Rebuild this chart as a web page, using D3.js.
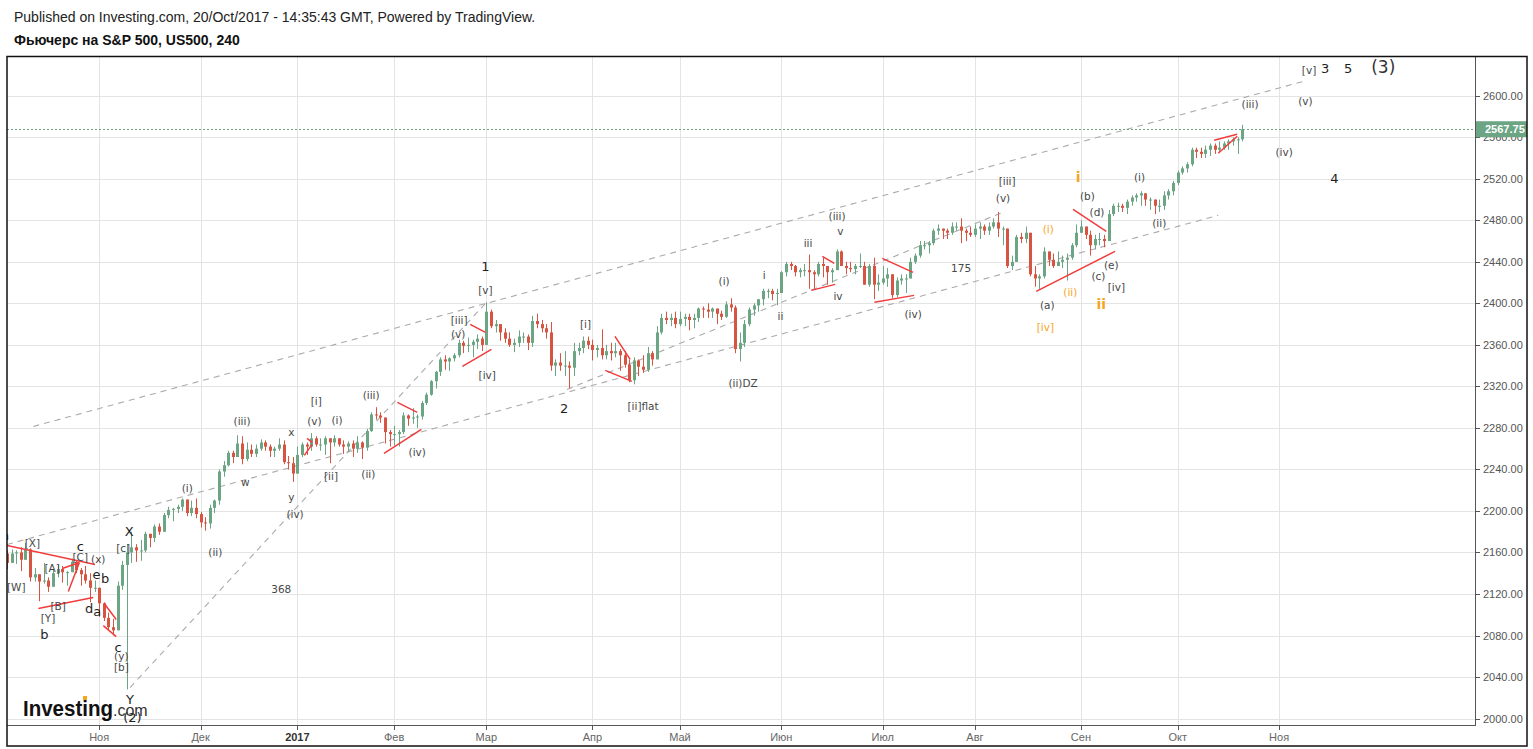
<!DOCTYPE html>
<html>
<head>
<meta charset="utf-8">
<script src="https://cdn.jsdelivr.net/npm/d3@7"></script>
<style>
body {margin: 0; background: #fff; font-family: "Liberation Sans", Arial, sans-serif;}
</style>
</head>
<body>
<div class="chartWrap"></div>
<script>
//Data: daily bars of the US500 futures (open = previous close)
const firstDay = "2016-10-04", lastDay = "2017-12-29";
const holidays = ["2016-12-26", "2017-01-02", "2017-04-14", "2017-05-29", "2017-07-04"];
const firstOpen = 2159;
const closes = [
  2150,2159,2160,2153,2163,2136,2139,2132,2133,2127,2140,2144,2141,2141,2151,2143,2139,2133,2126,2126, //Oct
  2111,2097,2088,2085,2128,2148,2160,2165,2162,2162,2178,2174,2185,2180,2196,2201,2202,2204,2211,2198,2203,2197, //Nov
  2189,2188,2203,2210,2238,2244,2256,2252,2265,2250,2259,2255,2260,2266,2262,2258,2260,2264,2247,2246,2236, //Dec
  2254,2264,2262,2270,2264,2264,2270,2266,2270,2264,2262,2265,2260,2266,2261,2277,2293,2292,2290,2276,2274, //Jan
  2274,2276,2292,2289,2290,2291,2304,2312,2325,2334,2346,2344,2347,2350,2362,2359,2360,2363,2366,2360, //Feb
  2392,2378,2380,2372,2366,2360,2362,2368,2368,2362,2383,2380,2376,2372,2340,2343,2340,2340,2338,2354,2357,2364,2360, //Mar
  2355,2357,2350,2354,2352,2354,2350,2341,2326,2345,2339,2336,2352,2346,2372,2386,2384,2386,2380, //Apr
  2385,2387,2384,2386,2395,2394,2392,2395,2390,2387,2399,2396,2356,2362,2380,2394,2398,2404,2412,2412,2409,2410, //May
  2430,2438,2436,2430,2432,2432,2430,2428,2438,2436,2430,2432,2450,2436,2434,2433,2436,2436,2418,2436,2418,2420, //Jun
  2424,2428,2408,2422,2424,2424,2440,2446,2456,2456,2458,2470,2472,2470,2468,2474,2474,2470,2468,2466, //Jul
  2472,2474,2470,2474,2478,2472,2472,2436,2440,2464,2462,2468,2428,2424,2426,2450,2442,2436,2440,2442,2444,2456,2468, //Aug
  2474,2466,2456,2462,2462,2460,2486,2494,2494,2492,2498,2502,2504,2506,2500,2500,2494,2494,2504,2508,2516, //Sep
  2526,2530,2534,2548,2546,2544,2548,2552,2548,2550,2554,2556,2558,2558,2567.75 //Oct
];
const highs = [
  2162,2163,2162,2165,2169,2164,2145,2138,2150,2136,2144,2148,2147,2142,2154,2152,2145,2147,2140,2133,
  2126,2112,2102,2096,2132,2152,2168,2180,2168,2172,2180,2178,2187,2188,2198,2204,2203,2206,2212,2211,2210,2212,
  2199,2194,2206,2211,2240,2248,2258,2258,2273,2272,2266,2264,2264,2269,2268,2264,2262,2270,2268,2253,2252,
  2262,2266,2266,2275,2272,2270,2272,2270,2273,2270,2268,2267,2268,2272,2267,2279,2295,2300,2295,2288,2278,
  2282,2278,2295,2293,2299,2293,2306,2314,2326,2335,2348,2350,2348,2352,2365,2364,2367,2365,2370,2368,
  2401,2394,2384,2380,2376,2372,2366,2374,2372,2370,2388,2390,2384,2380,2382,2346,2352,2354,2344,2362,2362,2368,2368,
  2365,2360,2375,2360,2362,2362,2356,2354,2346,2348,2346,2350,2358,2354,2378,2390,2392,2390,2392,
  2392,2390,2390,2390,2396,2397,2400,2396,2394,2393,2402,2405,2398,2372,2384,2396,2400,2404,2414,2414,2414,2414,
  2431,2440,2440,2437,2434,2438,2447,2432,2440,2444,2434,2434,2452,2451,2440,2440,2438,2448,2440,2438,2444,2428,
  2436,2434,2428,2425,2428,2428,2444,2448,2460,2460,2460,2472,2476,2472,2472,2478,2478,2482,2472,2474,
  2476,2478,2476,2478,2482,2488,2474,2472,2446,2466,2468,2474,2468,2436,2428,2454,2450,2448,2450,2446,2448,2458,2476,
  2480,2474,2470,2466,2468,2466,2490,2496,2497,2496,2500,2504,2506,2508,2506,2502,2500,2500,2508,2510,2518,
  2528,2532,2536,2550,2550,2550,2552,2554,2554,2556,2556,2558,2560,2560,2572
];
const lows = [
  2144,2150,2149,2142,2156,2132,2132,2113,2130,2122,2128,2136,2131,2128,2141,2140,2128,2130,2112,2122,
  2098,2094,2085,2080,2100,2124,2028,2150,2151,2152,2160,2165,2170,2177,2180,2193,2190,2198,2200,2195,2195,2193,
  2184,2181,2183,2198,2206,2233,2243,2246,2252,2245,2248,2252,2252,2258,2258,2252,2252,2258,2245,2240,2228,
  2238,2252,2254,2258,2262,2258,2254,2246,2262,2262,2255,2257,2252,2256,2250,2258,2276,2288,2285,2265,2262,
  2263,2262,2274,2282,2284,2280,2288,2302,2311,2318,2330,2336,2335,2344,2348,2352,2353,2348,2356,2354,
  2362,2376,2372,2364,2362,2358,2353,2358,2362,2355,2358,2376,2372,2366,2335,2330,2335,2330,2318,2330,2350,2352,2356,
  2345,2348,2346,2346,2345,2348,2335,2338,2324,2322,2330,2333,2334,2340,2360,2370,2380,2378,2376,
  2378,2378,2374,2376,2382,2386,2386,2386,2380,2384,2386,2392,2352,2344,2358,2378,2388,2392,2398,2405,2403,2398,
  2410,2426,2432,2426,2425,2426,2414,2414,2426,2425,2418,2420,2432,2436,2428,2430,2428,2434,2418,2416,2404,2412,
  2418,2416,2405,2406,2418,2410,2424,2438,2444,2452,2448,2456,2466,2462,2462,2466,2470,2458,2460,2464,
  2464,2462,2466,2466,2472,2464,2456,2434,2432,2444,2458,2458,2426,2416,2414,2424,2436,2434,2436,2434,2422,2442,2454,
  2468,2462,2446,2452,2456,2454,2466,2484,2488,2488,2486,2494,2498,2494,2494,2490,2486,2488,2490,2500,2504,
  2514,2524,2526,2532,2540,2540,2540,2542,2544,2546,2548,2548,2552,2544,2556
];
const lastPrice = 2567.75;
const priceTicks = [2000,2040,2080,2120,2160,2200,2240,2280,2320,2360,2400,2440,2480,2520,2560,2600];
const monthStarts = ["2016-11-01","2016-12-01","2017-01-01","2017-02-01","2017-03-01","2017-04-01","2017-05-01",
  "2017-06-01","2017-07-01","2017-08-01","2017-09-01","2017-10-01","2017-11-01"];
const monthLabels = ["Ноя","Дек","2017","Фев","Мар","Апр","Май","Июн","Июл","Авг","Сен","Окт","Ноя"];
//Drawings: [bar1, price1, bar2, price2]
const channelLines = [[5.7,2281.4,281.4,2614.0],[0,2167.7,262.8,2484.8],[26.7,2029.9,104.2,2401.9],[121.5,2317.1,216.6,2488.7]];
const redLines = [
  [0,2166.7,19.1,2148.4],[6.8,2106.0,18.7,2116.6],[12.0,2144.6,15.7,2150.4],[13.3,2122.4,15.7,2150.4],
  [21.1,2110.8,23.7,2095.4],[20.9,2089.6,23.7,2079.0],[64.5,2253.5,66.2,2264.1],[65.1,2269.9,66.2,2266.0],
  [84.7,2304.6,89.0,2294.9],[81.8,2255.4,89.9,2278.6],[100.5,2379.8,103.8,2372.1],[98.8,2339.3,105.1,2355.7],
  [131.9,2368.2,135.2,2346.0],[129.8,2335.4,135.6,2324.8],[176.9,2445.3,179.5,2438.5],[174.5,2412.5,179.7,2418.3],
  [189.9,2443.4,196.6,2429.9],[188.2,2401.0,196.8,2407.7],[231.3,2490.6,238.5,2469.4],[223.3,2411.6,240.4,2450.1],
  [261.9,2557.1,266.9,2562.9],[262.8,2544.6,266.9,2561.0]
];
//Wave labels: [text, bar, price, style]
const waveLabels = [
  ["a",-0.4,2176.4,"k"],["[X]",5.5,2168.7,"g"],["[W]",2.0,2126.3,"g"],["[A]",9.8,2145.5,"g"],["c",15.9,2165.8,"k"],
  ["[C]",15.9,2156.1,"g"],["(x)",19.8,2153.3,"g"],["e",19.4,2138.8,"k"],["b",21.3,2134.9,"k"],["[B]",11.1,2108.9,"g"],
  ["[Y]",8.9,2096.4,"g"],["b",8.1,2081.0,"k"],["d",17.8,2106.0,"k"],["a",19.6,2103.1,"k"],["c",24.1,2068.5,"k"],
  ["(y)",24.8,2060.2,"g"],["[b]",24.8,2049.6,"g"],["X",26.5,2180.2,"k"],["[c]",25.2,2163.9,"g"],["Y",26.7,2018.3,"k"],
  ["(2)",27.2,2001.0,"k"],["(i)",39.1,2222.6,"g"],["(ii)",45.2,2160.0,"g"],["(iii)",51.0,2286.3,"g"],["w",51.7,2227.5,"g"],
  ["x",61.7,2275.7,"g"],["y",61.7,2213.0,"g"],["(iv)",62.5,2196.6,"g"],["368",59.5,2125.3,"g"],["[i]",67.1,2305.5,"g"],
  ["(v)",66.7,2286.3,"g"],["(i)",71.6,2287.2,"g"],["[ii]",70.3,2233.3,"g"],["(ii)",78.4,2235.2,"g"],["(iii)",79.0,2311.3,"g"],
  ["(iv)",89.0,2256.4,"g"],["1",103.8,2435.7,"k"],["[v]",103.8,2412.6,"g"],["[iii]",98.1,2383.7,"g"],["(v)",97.9,2370.1,"g"],
  ["[iv]",104.2,2330.6,"g"],["2",120.9,2298.8,"k"],["[i]",125.5,2379.8,"g"],["[ii]flat",138.0,2300.7,"g"],
  ["(i)",155.6,2421.2,"g"],["(ii)DZ",159.7,2322.9,"g"],["i",164.3,2427.0,"g"],["ii",167.8,2387.5,"g"],["iii",173.8,2457.8,"g"],
  ["(iii)",180.1,2483.9,"g"],["v",180.8,2469.4,"g"],["iv",180.3,2406.8,"g"],["(iv)",196.6,2389.4,"g"],["175",207.0,2433.7,"g"],
  ["[iii]",217.0,2517.6,"g"],["(v)",216.1,2501.2,"g"],["(b)",234.4,2503.1,"g"],["(d)",236.5,2487.7,"g"],["(i)",245.7,2521.4,"g"],
  ["(ii)",250.0,2477.1,"g"],["(e)",239.6,2436.6,"g"],["(c)",236.8,2426.0,"g"],["[iv]",240.7,2415.4,"g"],["(a)",225.7,2398.1,"g"],
  ["i",232.4,2521.4,"O"],["ii",237.4,2399.0,"O"],["(i)",225.9,2471.3,"o"],["(ii)",230.7,2410.6,"o"],["[iv]",225.3,2376.9,"o"],
  ["(iii)",269.7,2591.8,"g"],["(v)",281.7,2594.7,"g"],["(iv)",277.1,2545.5,"g"],["[v]",282.5,2624.6,"g"],
  ["3",286.0,2626.5,"k"],["5",291.0,2626.5,"k"],["4",288.0,2520.5,"k"],["(3)",298.6,2627.5,"K"]
];

//Variables
const W = 1533, H = 749,
  plot = {left: 7, right: 1475, top: 56, bottom: 725},
  upColor = "#6ba583", downColor = "#d75442";
const labelStyle = {
  g: {size: 10.5, color: "#474747", weight: "normal"},
  k: {size: 13, color: "#1e1e1e", weight: "normal"},
  K: {size: 17, color: "#333", weight: "normal"},
  o: {size: 10.5, color: "#f5a623", weight: "normal"},
  O: {size: 14, color: "#f5a623", weight: "bold"}
};

//Execute
makeChart();

//Functions
function tradingDays(from, to) {
  let out = [], d = new Date(from + "T12:00:00Z"), end = new Date(to + "T12:00:00Z");
  while (d <= end) {
    let wd = d.getUTCDay(), s = d.toISOString().slice(0, 10);
    if (wd !== 0 && wd !== 6 && holidays.indexOf(s) < 0) out.push(s);
    d.setUTCDate(d.getUTCDate() + 1);
  }
  return out;
}

function makeChart() {
  let days = tradingDays(firstDay, lastDay);
  let x = d3.scaleLinear().domain([0, 318.5]).range([plot.left, plot.right]);
  let y = d3.scaleLinear().domain([1993.8, 2638.3]).range([plot.bottom, plot.top]);

  let bars = closes.map(function(c, i) {
    let o = i ? closes[i - 1] : firstOpen;
    return {i: i, o: o, c: c, h: Math.max(highs[i], o, c), l: Math.min(lows[i], o, c)};
  });

  let svg = d3.select(".chartWrap").append("svg").attr("width", W).attr("height", H)
    .style("font-family", '"Liberation Sans", Arial, sans-serif');

  //Header
  svg.append("text").attr("x", 14).attr("y", 22).attr("font-size", 14).attr("fill", "#222")
    .text("Published on Investing.com, 20/Oct/2017 - 14:35:43 GMT, Powered by TradingView.");
  svg.append("text").attr("x", 14).attr("y", 45).attr("font-size", 14).attr("font-weight", "bold").attr("fill", "#111")
    .text("Фьючерс на S&P 500, US500, 240");

  svg.append("clipPath").attr("id", "plotClip").append("rect")
    .attr("x", plot.left).attr("y", plot.top).attr("width", plot.right - plot.left).attr("height", plot.bottom - plot.top);

  //Grid
  let monthIdx = monthStarts.map(function(m) { return d3.bisectLeft(days, m); });
  svg.append("g").selectAll("line").data(priceTicks).enter().append("line")
    .attr("x1", plot.left).attr("x2", plot.right)
    .attr("y1", function(d) { return Math.round(y(d)) + 0.5; }).attr("y2", function(d) { return Math.round(y(d)) + 0.5; })
    .attr("stroke", "#e4e4e4");
  svg.append("g").selectAll("line").data(monthIdx).enter().append("line")
    .attr("x1", function(d) { return Math.round(x(d)) + 0.5; }).attr("x2", function(d) { return Math.round(x(d)) + 0.5; })
    .attr("y1", plot.top).attr("y2", plot.bottom).attr("stroke", "#e4e4e4");

  let chart = svg.append("g").attr("clip-path", "url(#plotClip)");

  //Channel lines
  chart.append("g").selectAll("line").data(channelLines).enter().append("line")
    .attr("x1", function(d) { return x(d[0]); }).attr("y1", function(d) { return y(d[1]); })
    .attr("x2", function(d) { return x(d[2]); }).attr("y2", function(d) { return y(d[3]); })
    .attr("stroke", "#ababab").attr("stroke-width", 1.1).attr("stroke-dasharray", "6,5");

  //Candles
  let candle = chart.append("g").selectAll("g").data(bars).enter().append("g");
  candle.append("line")
    .attr("x1", function(d) { return Math.round(x(d.i)) + 0.5; }).attr("x2", function(d) { return Math.round(x(d.i)) + 0.5; })
    .attr("y1", function(d) { return y(d.h); }).attr("y2", function(d) { return y(d.l); })
    .attr("stroke", function(d) { return d.c >= d.o ? upColor : downColor; });
  candle.append("rect")
    .attr("x", function(d) { return Math.round(x(d.i)) - 1; }).attr("width", 3)
    .attr("y", function(d) { return y(Math.max(d.o, d.c)); })
    .attr("height", function(d) { return Math.max(1, Math.abs(y(d.o) - y(d.c))); })
    .attr("fill", function(d) { return d.c >= d.o ? upColor : downColor; });

  //Red trend lines
  chart.append("g").selectAll("line").data(redLines).enter().append("line")
    .attr("x1", function(d) { return x(d[0]); }).attr("y1", function(d) { return y(d[1]); })
    .attr("x2", function(d) { return x(d[2]); }).attr("y2", function(d) { return y(d[3]); })
    .attr("stroke", "#f23b3b").attr("stroke-width", 1.5);

  //Last price line
  chart.append("line").attr("x1", plot.left).attr("x2", plot.right)
    .attr("y1", Math.round(y(lastPrice)) + 0.5).attr("y2", Math.round(y(lastPrice)) + 0.5)
    .attr("stroke", upColor).attr("stroke-dasharray", "2,2");

  //Wave labels
  chart.append("g").selectAll("text").data(waveLabels).enter().append("text")
    .attr("x", function(d) { return x(d[1]); }).attr("y", function(d) { return y(d[2]); })
    .attr("text-anchor", "middle").attr("dominant-baseline", "central")
    .style("font-family", '"DejaVu Sans", Verdana, sans-serif')
    .attr("font-size", function(d) { return labelStyle[d[3]].size; })
    .attr("font-weight", function(d) { return labelStyle[d[3]].weight; })
    .attr("fill", function(d) { return labelStyle[d[3]].color; })
    .text(function(d) { return d[0]; });

  //Logo
  let logo = svg.append("g");
  logo.append("text").attr("x", 23).attr("y", 716).attr("font-size", 22).attr("font-weight", "bold")
    .attr("fill", "#111").attr("textLength", 90).attr("lengthAdjust", "spacingAndGlyphs").text("Investing");
  logo.append("text").attr("x", 113).attr("y", 716).attr("font-size", 16).attr("fill", "#333").text(".com");
  logo.append("rect").attr("x", 83).attr("y", 696).attr("width", 4).attr("height", 4).attr("fill", "#f5a623");

  //Axes
  svg.append("line").attr("x1", plot.left).attr("x2", plot.right).attr("y1", plot.bottom + 0.5).attr("y2", plot.bottom + 0.5)
    .attr("stroke", "#555");
  svg.append("line").attr("x1", plot.right + 0.5).attr("x2", plot.right + 0.5).attr("y1", plot.top).attr("y2", plot.bottom + 1)
    .attr("stroke", "#555");
  let xt = svg.append("g").selectAll("g").data(monthIdx).enter().append("g");
  xt.append("line").attr("x1", function(d) { return Math.round(x(d)) + 0.5; }).attr("x2", function(d) { return Math.round(x(d)) + 0.5; })
    .attr("y1", plot.bottom).attr("y2", plot.bottom + 5).attr("stroke", "#555");
  xt.append("text").attr("x", function(d) { return x(d); }).attr("y", 741).attr("text-anchor", "middle")
    .attr("font-size", 11)
    .attr("font-weight", function(d, i) { return monthLabels[i] === "2017" ? "bold" : "normal"; })
    .attr("fill", function(d, i) { return monthLabels[i] === "2017" ? "#333" : "#666"; })
    .text(function(d, i) { return monthLabels[i]; });
  let yt = svg.append("g").selectAll("g").data(priceTicks).enter().append("g");
  yt.append("line").attr("x1", plot.right).attr("x2", plot.right + 5)
    .attr("y1", function(d) { return Math.round(y(d)) + 0.5; }).attr("y2", function(d) { return Math.round(y(d)) + 0.5; })
    .attr("stroke", "#555");
  yt.append("text").attr("x", 1483).attr("y", function(d) { return y(d) + 4; }).attr("font-size", 11).attr("fill", "#555")
    .text(function(d) { return d3.format(".2f")(d); });

  //Last price tag
  svg.append("rect").attr("x", plot.right + 1).attr("y", y(lastPrice) - 8).attr("width", 51).attr("height", 16).attr("fill", upColor);
  svg.append("text").attr("x", 1485).attr("y", y(lastPrice) + 4).attr("font-size", 11).attr("font-weight", "bold")
    .attr("fill", "#fff").text(d3.format(".2f")(lastPrice));

  //Frame
  svg.append("rect").attr("x", 7).attr("y", 56.5).attr("width", 1520).attr("height", 689.5)
    .attr("fill", "none").attr("stroke", "#111").attr("stroke-width", 1.5);
}
</script>
</body>
</html>
